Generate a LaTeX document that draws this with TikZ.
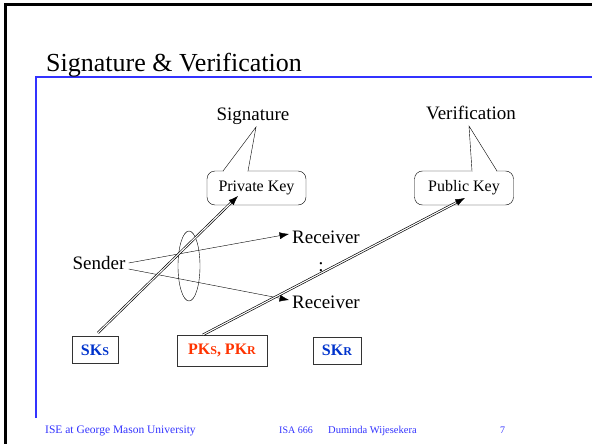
\documentclass[tikz,border=0pt]{standalone}
\usepackage{fontspec}
\setmainfont{Liberation Serif}
\usetikzlibrary{arrows.meta,calc}

\definecolor{frameblue}{RGB}{51,51,255}
\definecolor{keyblue}{RGB}{0,51,204}
\definecolor{keyred}{RGB}{255,51,0}

\newcommand{\smallcap}[1]{{\fontsize{12}{12}\selectfont #1}}

\begin{document}
\begin{tikzpicture}[x=1pt,y=-1pt,>={Latex[length=9.5pt,width=7pt]},
  every node/.style={inner sep=0pt},
  lbl/.style={font=\fontsize{19}{19}\selectfont},
  keybox/.style={draw,rounded corners=8pt,minimum width=99pt,minimum height=34pt,fill=white,font=\fontsize{16}{16}\selectfont},
  keyname/.style={draw=black!80,minimum height=27pt,font=\bfseries\fontsize{16}{16}\selectfont},
  dbl/.style={double,double distance=1.1pt,line width=0.65pt,shorten >=7pt},
  foot/.style={anchor=base west,text=frameblue}]
	\useasboundingbox (0,0) rectangle (592,444);

	% slide frame
	\draw[line width=3pt] (5.5,444) -- (5.5,4.5) -- (592,4.5);
	\draw[frameblue,line width=1.2pt] (36,418) -- (36,77) -- (592,77);
	\node[anchor=base west,font=\fontsize{26}{26}\selectfont] (title) at (46,71) {Signature \& Verification};

	% create the nodes
	\node[lbl] (sig) at (253,116) {Signature};
	\node[lbl] (ver) at (471,113) {Verification};
	\node[keybox] (priv) at (256.5,188) {Private Key};
	\node[keybox] (pub) at (464,188) {Public Key};
	\node[lbl] (sender) at (99,263) {Sender};
	\node[lbl] (rcv1) at (326,237) {Receiver};
	\node[lbl] (rcv2) at (326,302) {Receiver};
	\node[lbl] (dots) at (321,267) {:};
	\node[keyname,text=keyblue,minimum width=46pt] (sks) at (95,350) {SK\smallcap{S}};
	\node[keyname,text=keyred,minimum width=90pt,minimum height=31pt] (pks) at (222,350.5) {PK\smallcap{S}, PK\smallcap{R}};
	\node[keyname,text=keyblue,minimum width=48pt] (skr) at (337,350.5) {SK\smallcap{R}};

	% callout pointers
	\draw[fill=white] (223,171) -- (256,127) -- (248,171);
	\draw[white,line width=1.5pt] (224,171) -- (247,171);
	\draw[fill=white] (472,171) -- (469,126) -- (497,171);
	\draw[white,line width=1.5pt] (473,171) -- (496,171);

	% group of receivers
	\draw (189,266) ellipse [x radius=11, y radius=35];

	% connect the nodes
	\draw[->] ([xshift=3pt]sender.east) -- ([xshift=-3pt,yshift=3pt]rcv1.west);
	\draw[->] ([xshift=3pt,yshift=-6pt]sender.east) -- ([xshift=-3pt,yshift=2pt]rcv2.west);

	\coordinate (sksout) at ([xshift=3pt,yshift=3.5pt]sks.north);
	\coordinate (privin) at ([xshift=-18.5pt,yshift=-8pt]priv.center);
	\coordinate (pksout) at ([xshift=-19pt]pks.north);
	\coordinate (pubin) at ([xshift=1pt,yshift=-10pt]pub.center);
	\draw[dbl] (sksout) -- (privin);
	\draw[->] ($(privin)!10pt!(sksout)$) -- (privin);
	\draw[dbl] (pksout) -- (pubin);
	\draw[->] ($(pubin)!10pt!(pksout)$) -- (pubin);

	% footer
	\node[foot,font=\fontsize{11.5}{11.5}\selectfont] (inst) at (45,433) {ISE at George Mason University};
	\node[foot,font=\fontsize{10}{10}\selectfont] (course) at (279,433) {ISA 666};
	\node[foot,font=\fontsize{10.5}{10.5}\selectfont] (auth) at (328,433) {Duminda Wijesekera};
	\node[foot,font=\fontsize{10}{10}\selectfont] (page) at (500,433) {7};
\end{tikzpicture}
\end{document}
